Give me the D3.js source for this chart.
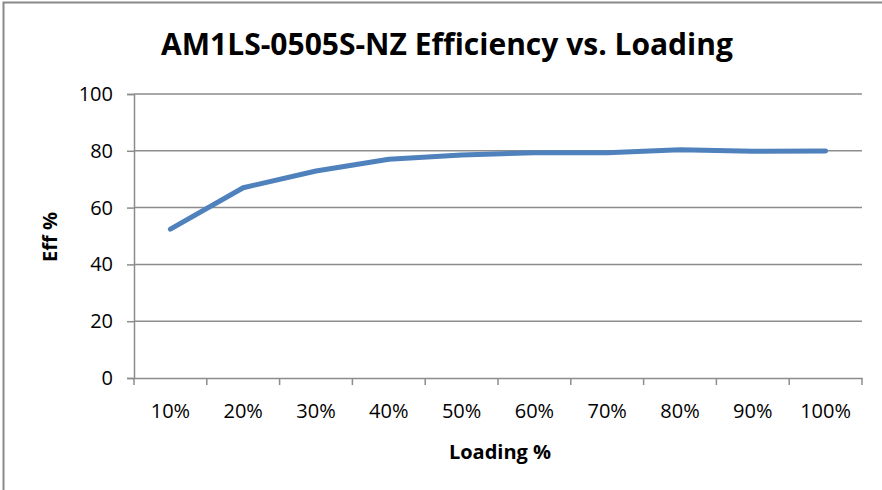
<!DOCTYPE html>
<html>
<head>
<meta charset="utf-8">
<script src="https://cdn.jsdelivr.net/npm/d3@7"></script>
<style>
  html, body { margin: 0; padding: 0; background: #fff; }
  svg { display: block; }
  text { font-family: "Open Sans", "Liberation Sans", sans-serif; fill: #000; }
</style>
</head>
<body>
<svg id="chart" width="882" height="490"></svg>
<script>
const title = "AM1LS-0505S-NZ Efficiency vs. Loading";
const categories = ["10%", "20%", "30%", "40%", "50%", "60%", "70%", "80%", "90%", "100%"];
const efficiency = [52.4, 67.0, 72.9, 77.0, 78.5, 79.3, 79.3, 80.4, 79.8, 79.9];
const yTicks = [0, 20, 40, 60, 80, 100];
const xTitle = "Loading %";
const yTitle = "Eff %";

const svg = d3.select("#chart");
const W = 882, H = 490;
const plot = { left: 134, right: 862, top: 94, bottom: 378 };

// outer chart border (extends past right/bottom of frame)
svg.append("rect")
  .attr("x", 3.5).attr("y", 2.5)
  .attr("width", W + 10).attr("height", H + 10)
  .attr("fill", "#fff").attr("stroke", "#898989").attr("stroke-width", 2);

const x = d3.scaleBand().domain(categories).range([plot.left, plot.right]).padding(0);
const y = d3.scaleLinear().domain([0, 100]).range([plot.bottom, plot.top]);

// gridlines
svg.append("g")
  .selectAll("line").data(yTicks.filter(d => d > 0)).join("line")
  .attr("x1", plot.left).attr("x2", plot.right)
  .attr("y1", d => y(d)).attr("y2", d => y(d))
  .attr("stroke", "#8c8c8c").attr("stroke-width", 1.5);

// y axis
const yAxis = svg.append("g")
  .attr("transform", `translate(${plot.left},0)`)
  .call(d3.axisLeft(y).tickValues(yTicks).tickSize(7).tickPadding(14).tickFormat(d3.format("d")));
yAxis.select(".domain").attr("stroke", "#8c8c8c").attr("stroke-width", 1.5);
yAxis.selectAll(".tick line").attr("stroke", "#8c8c8c").attr("stroke-width", 1.5);
yAxis.selectAll(".tick text").attr("font-size", 20).attr("font-family", "Open Sans").attr("fill", "#000");

// x axis
const xAxis = svg.append("g")
  .attr("transform", `translate(0,${plot.bottom})`)
  .call(d3.axisBottom(x).tickSize(0).tickPadding(26));
xAxis.select(".domain").attr("stroke", "#8c8c8c").attr("stroke-width", 1.5);
xAxis.selectAll(".tick text").attr("font-size", 20).attr("font-family", "Open Sans").attr("fill", "#000");
// boundary ticks between categories
const bounds = categories.map(c => x(c)).concat([x(categories[categories.length - 1]) + x.bandwidth()]);
svg.append("g").selectAll("line").data(bounds).join("line")
  .attr("x1", d => d).attr("x2", d => d)
  .attr("y1", plot.bottom).attr("y2", plot.bottom + 7)
  .attr("stroke", "#8c8c8c").attr("stroke-width", 1.5);

// line
const line = d3.line()
  .x((d, i) => x(categories[i]) + x.bandwidth() / 2)
  .y(d => y(d));
svg.append("path")
  .datum(efficiency)
  .attr("d", line)
  .attr("fill", "none")
  .attr("stroke", "#4f81bd")
  .attr("stroke-width", 5)
  .attr("stroke-linecap", "round")
  .attr("stroke-linejoin", "round");

// titles
svg.append("text")
  .attr("x", 447).attr("y", 55)
  .attr("text-anchor", "middle")
  .attr("font-size", 30).attr("font-weight", "bold")
  .text(title);

svg.append("text")
  .attr("x", 500).attr("y", 459)
  .attr("text-anchor", "middle")
  .attr("font-size", 20).attr("font-weight", "bold")
  .text(xTitle);

svg.append("text")
  .attr("transform", "translate(57,237) rotate(-90)")
  .attr("text-anchor", "middle")
  .attr("font-size", 20).attr("font-weight", "bold")
  .text(yTitle);
</script>
</body>
</html>
